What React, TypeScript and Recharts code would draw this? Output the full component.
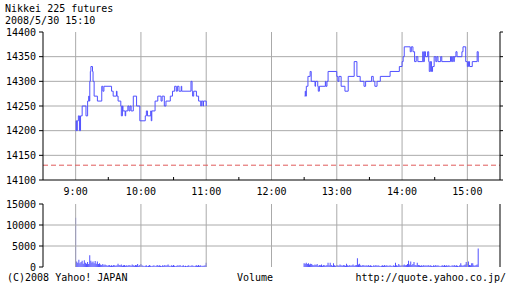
import React from "react";
import { LineChart, BarChart, Line, Bar, XAxis, YAxis, ReferenceLine } from "recharts";

// ---- price (minutes after session open, price) ----
const amMinutes = [0,0.5,1,1.5,2.5,3.5,4.5,6,9.5,11,12,12.5,13,13.5,14,15.5,16,17,20,24,25,26,33,34.5,37.5,38,39,41.5,42,43,43.5,45.5,46,48,49,50,51,53,56,59,64,65,66,69,69.5,70,73,75.5,78.5,79.5,81.5,83,87,89,91,92.5,93.5,95,97,97.5,106,107,107.5,108.5,111,113,115,115.5,117,117.5,120];
const amPrices = [14200,14220,14200,14220,14230,14200,14230,14250,14230,14260,14270,14260,14300,14320,14330,14320,14300,14270,14260,14290,14280,14290,14280,14270,14280,14270,14260,14250,14230,14250,14240,14230,14240,14250,14240,14250,14240,14270,14250,14220,14230,14240,14230,14240,14220,14240,14260,14270,14260,14270,14250,14260,14270,14280,14290,14280,14290,14280,14290,14280,14300,14280,14270,14280,14270,14260,14250,14260,14250,14260,14250];
// minutes after 12:00
const pmMinutes = [30.5,31,31.5,32,33.5,35.5,36.5,40,40.5,42.5,43,44,49.5,50,51,52,60,61,62,64,67.5,70.5,76,78.5,81.5,85,86.5,92,93.5,95,97,100,109,117.5,120,121,122,127.5,128.5,130,131.5,133,134.5,139,139.5,140.5,141.5,143.5,144.5,145,146,147,148,149.5,151,152,153,155.5,156.5,164.5,165.5,166.5,167.5,168,169.5,170.5,175,176,178.5,180,181,182,184.5,189,190,190.5];
const pmPrices = [14270,14280,14270,14290,14310,14320,14300,14290,14300,14290,14280,14290,14300,14290,14300,14320,14310,14300,14310,14290,14280,14310,14340,14310,14300,14290,14300,14310,14300,14290,14300,14310,14320,14330,14340,14350,14370,14360,14370,14360,14340,14350,14340,14360,14340,14360,14350,14360,14340,14320,14340,14320,14330,14350,14340,14350,14340,14350,14340,14350,14340,14350,14340,14350,14360,14350,14360,14370,14340,14330,14340,14330,14340,14360,14340,14340];
const previousClose = 14130;

// ---- volume per minute ----
// 9:00 .. 11:00
const amVolume = [
  11700,1300,1000,1700,900,1200,1500,800,1600,1000,
  800,1200,700,2800,1500,1100,1300,900,1400,800,
  1300,700,900,600,500,700,400,600,500,300,
  400,500,300,400,300,500,400,300,400,800,
  500,400,600,300,400,500,300,400,300,500,
  400,300,600,400,300,500,400,700,300,500,
  700,400,300,200,300,400,200,300,500,300,
  200,300,400,200,300,500,300,400,300,200,
  400,300,500,300,400,600,300,200,400,300,
  500,300,200,300,400,300,500,200,300,400,
  200,300,200,300,400,200,300,400,300,200,
  300,400,300,500,300,400,200,300,300,400,
  1000,
];
// 12:30 .. 15:10
const pmVolume = [
  900,800,1000,700,900,600,800,700,500,400,
  600,500,700,300,500,400,600,300,500,400,
  300,500,1000,400,1000,500,300,900,400,300,
  500,400,300,600,400,300,500,400,300,800,
  400,300,500,300,400,600,300,400,500,2100,
  600,800,400,300,500,400,300,400,300,500,
  300,400,300,200,400,300,500,300,400,300,
  200,300,400,300,500,300,400,300,300,400,
  300,200,400,300,1000,400,300,700,400,300,
  500,400,600,400,500,700,1500,600,1300,500,
  700,1200,500,400,1000,500,400,300,400,300,
  500,300,400,300,500,300,400,300,200,400,
  300,500,300,400,300,200,300,400,300,500,
  300,400,300,400,300,200,400,300,500,300,
  400,300,200,400,900,400,300,500,600,1200,
  700,1300,500,400,900,900,400,300,500,600,
  4400,
];

const timeTicks = [540,570,600,630,660,690,720,750,780,810,840,870,900];
const hourTicks = [540,600,660,720,780,840,900];
const hourLabels = ["9:00","10:00","11:00","12:00","13:00","14:00","15:00"];
const priceTicks = [14100,14150,14200,14250,14300,14350,14400];
const volumeTicks = [0,5000,10000,15000];

const priceData = [
  ...amMinutes.map((m, i) => ({ t: 540 + m, p: amPrices[i] })),
  { t: 661, p: null },
  ...pmMinutes.map((m, i) => ({ t: 720 + m, p: pmPrices[i] })),
];
const volumeData = [
  ...amVolume.map((v, i) => ({ t: 540 + i, v })),
  ...pmVolume.map((v, i) => ({ t: 750 + i, v })),
];

const FONT = "'DejaVu Sans Mono', monospace";
const BLUE = "#5050ff";
const GRID = "#aaaaaa";
const tickStyle = { fill: "#000", fontSize: 10, fontFamily: FONT };

const BottomTick = (props: any) => {
  const { x, y, payload } = props;
  const v = payload.value;
  if (v % 60 === 0) {
    const idx = hourTicks.indexOf(v);
    return (
      <text x={x} y={y + 15} textAnchor="middle" fill="#000" fontSize={10} fontFamily={FONT}>
        {hourLabels[idx]}
      </text>
    );
  }
  return <line x1={x} x2={x} y1={y} y2={y - 3} stroke="#000" />;
};
const TopTick = (props: any) => {
  const { x, y } = props;
  return <line x1={x} x2={x} y1={y} y2={y + 3} stroke="#000" />;
};
const EmptyTick = () => <g />;

export default function App() {
  return (
    <div style={{ position: "absolute", left: 0, top: 0, width: 512, height: 288, background: "#fff" }}>
      <div style={{ position: "absolute", left: 0, top: 0 }}>
        <LineChart width={512} height={200} data={priceData} margin={{ top: 32, right: 0, bottom: 0, left: 0 }}>
          <XAxis xAxisId="b" type="number" dataKey="t" domain={[510, 930]} ticks={timeTicks} interval={0}
            tick={<BottomTick />} tickLine={false} tickSize={0} tickMargin={0} height={20}
            axisLine={{ stroke: "#000" }} allowDataOverflow />
          <XAxis xAxisId="t" orientation="top" type="number" dataKey="t" domain={[510, 930]} ticks={timeTicks} interval={0}
            tick={<TopTick />} tickLine={false} tickSize={0} tickMargin={0} height={0}
            axisLine={{ stroke: "#000" }} allowDataOverflow />
          <YAxis yAxisId="l" type="number" domain={[14100, 14400]} ticks={priceTicks} interval={0}
            width={43} tickSize={4} tickMargin={3} tick={tickStyle}
            tickLine={{ stroke: "#000" }} axisLine={{ stroke: "#000" }} allowDataOverflow />
          <YAxis yAxisId="r" orientation="right" type="number" domain={[14100, 14400]} ticks={priceTicks} interval={0}
            width={12} tickSize={3} tick={EmptyTick}
            tickLine={{ stroke: "#000" }} axisLine={{ stroke: "#000" }} allowDataOverflow />
          {priceTicks.slice(1, -1).map((v) => (
            <ReferenceLine key={"h" + v} xAxisId="b" yAxisId="l" y={v} stroke={GRID} strokeWidth={1} />
          ))}
          {hourTicks.map((v) => (
            <ReferenceLine key={"v" + v} xAxisId="b" yAxisId="l" x={v} stroke={GRID} strokeWidth={1} />
          ))}
          <ReferenceLine xAxisId="b" yAxisId="l" y={previousClose} stroke="#e05a5a" strokeDasharray="5 3" />
          <Line xAxisId="b" yAxisId="l" type="stepAfter" dataKey="p" stroke={BLUE} strokeWidth={1}
            dot={false} connectNulls={false} isAnimationActive={false} />
        </LineChart>
      </div>
      <div style={{ position: "absolute", left: 0, top: 198 }}>
        <BarChart width={512} height={76} data={volumeData} margin={{ top: 6, right: 0, bottom: 7, left: 0 }} barCategoryGap={0}>
          <XAxis xAxisId="b" type="number" dataKey="t" domain={[510, 930]} ticks={hourTicks} interval={0}
            tick={EmptyTick} tickLine={false} height={0} axisLine={{ stroke: "#000" }} allowDataOverflow />
          <XAxis xAxisId="t" orientation="top" type="number" dataKey="t" domain={[510, 930]} ticks={hourTicks}
            tick={EmptyTick} tickLine={false} height={0} axisLine={{ stroke: "#000" }} allowDataOverflow />
          <YAxis yAxisId="l" type="number" domain={[0, 15000]} ticks={volumeTicks} interval={0}
            width={43} tickSize={4} tickMargin={3} tick={tickStyle}
            tickLine={{ stroke: "#000" }} axisLine={{ stroke: "#000" }} allowDataOverflow />
          <YAxis yAxisId="r" orientation="right" type="number" domain={[0, 15000]} ticks={volumeTicks}
            width={12} tick={EmptyTick} tickLine={false} axisLine={{ stroke: "#000" }} allowDataOverflow />
          {volumeTicks.slice(1, -1).map((v) => (
            <ReferenceLine key={"vh" + v} xAxisId="b" yAxisId="l" y={v} stroke={GRID} />
          ))}
          {hourTicks.map((v) => (
            <ReferenceLine key={"vv" + v} xAxisId="b" yAxisId="l" x={v} stroke={GRID} />
          ))}
          <Bar xAxisId="b" yAxisId="l" dataKey="v" fill={BLUE} barSize={1} isAnimationActive={false} />
        </BarChart>
      </div>
      <svg width={512} height={288} style={{ position: "absolute", left: 0, top: 0, pointerEvents: "none" }}>
        <text x={5} y={12} fontSize={10} fontFamily={FONT} fill="#000">Nikkei 225 futures</text>
        <text x={5} y={24} fontSize={10} fontFamily={FONT} fill="#000">2008/5/30 15:10</text>
        <text x={7} y={281} fontSize={10} fontFamily={FONT} fill="#000">(C)2008 Yahoo! JAPAN</text>
        <text x={255} y={281} fontSize={10} fontFamily={FONT} fill="#000" textAnchor="middle">Volume</text>
        <text x={506} y={281} fontSize={10} fontFamily={FONT} fill="#000" textAnchor="end">http://quote.yahoo.co.jp/</text>
      </svg>
    </div>
  );
}
